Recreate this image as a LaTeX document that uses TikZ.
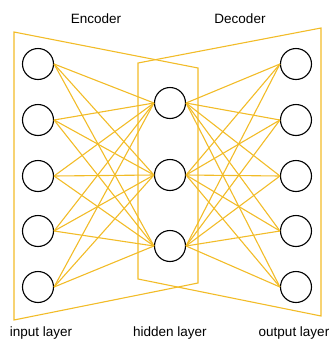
\documentclass[tikz,border=0pt]{standalone}
\usepackage{xcolor}
\usepackage{fontspec}
\setmainfont{Liberation Sans}
\usepackage{tikz}
\definecolor{netgold}{RGB}{242,188,40}
\tikzset{
  neuron/.style={draw=black,circle,line width=1.1pt,minimum size=31pt,inner sep=0pt},
  link/.style={draw=netgold,line width=1.1pt},
  caption/.style={inner sep=0.75pt,font=\fontsize{13.5}{16}\selectfont}
}
\begin{document}
\begin{tikzpicture}[x=1pt,y=1pt,yscale=-1,xscale=1]
\useasboundingbox (0,0) rectangle (330,341);
%编码器 / 解码器外框
\draw [link] (14,32) -- (198,68) -- (198,283) -- (14,320) -- cycle ;
\draw [link] (321,28) -- (138,63) -- (138,279) -- (321,316) -- cycle ;
%输入层
\node [neuron] (in1) at (38,64) {};
\node [neuron] (in2) at (38,120) {};
\node [neuron] (in3) at (38,176) {};
\node [neuron] (in4) at (38,231) {};
\node [neuron] (in5) at (38,287) {};
%隐藏层
\node [neuron] (hid1) at (170,103) {};
\node [neuron] (hid2) at (170,175) {};
\node [neuron] (hid3) at (170,246) {};
%输出层
\node [neuron] (out1) at (296,64) {};
\node [neuron] (out2) at (296,120) {};
\node [neuron] (out3) at (296,176) {};
\node [neuron] (out4) at (296,231) {};
\node [neuron] (out5) at (296,287) {};
%连接
\foreach \i in {1,...,5}
  \foreach \j in {1,2,3} {
    \draw [link] (in\i.east) -- (hid\j.west) ;
    \draw [link] (hid\j.east) -- (out\i.west) ;
  }
%Text
\node [caption] (enc) at (96,19) {Encoder};
\node [caption] (dec) at (240,19) {Decoder};
\node [caption] (inl) at (41,333) {input layer};
\node [caption] (hidl) at (170,333) {hidden layer};
\node [caption] (outl) at (294,333) {output layer};
\end{tikzpicture}
\end{document}
